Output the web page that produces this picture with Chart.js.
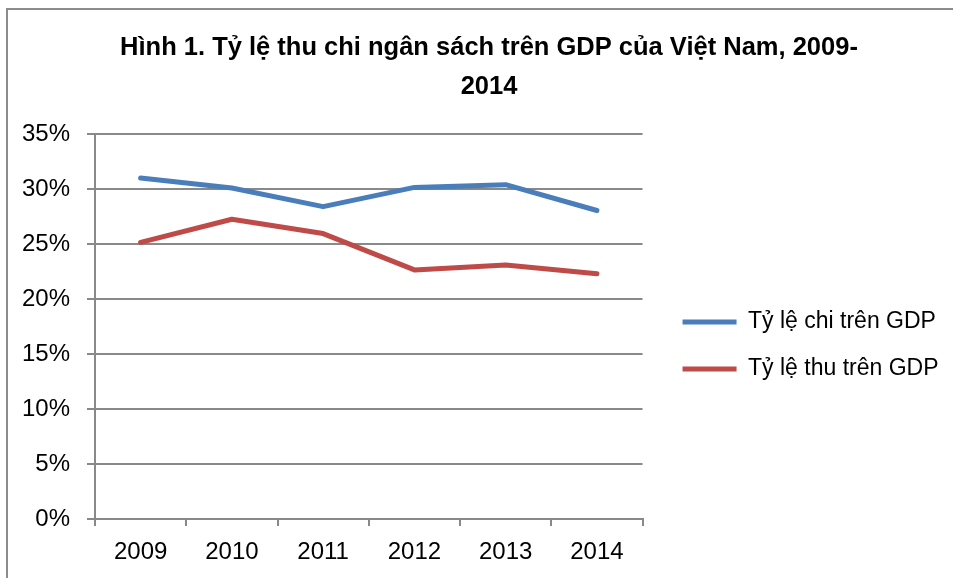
<!DOCTYPE html>
<html>
<head>
<meta charset="utf-8">
<script src="https://cdn.jsdelivr.net/npm/chart.js@4"></script>
<style>
    html, body { margin: 0; padding: 0; background: #fff; }
    #wrap { width: 953px; height: 578px; }
</style>
</head>
<body>
<div id="wrap"><canvas id="chart" width="953" height="578"></canvas></div>
<script>
const years = ['2009', '2010', '2011', '2012', '2013', '2014'];
const chiGdp = [31.0, 30.1, 28.4, 30.15, 30.4, 28.05];
const thuGdp = [25.15, 27.25, 25.95, 22.65, 23.1, 22.3];
const yTicks = [0, 5, 10, 15, 20, 25, 30, 35];
const seriesNames = ['Tỷ lệ chi trên GDP', 'Tỷ lệ thu trên GDP'];
const titleLines = ['Hình 1. Tỷ lệ thu chi ngân sách trên GDP của Việt Nam, 2009-', '2014'];

const FONT = "'Liberation Sans', Arial, sans-serif";
const GRID = '#898989';

// grey frame around the chart object (left + top edges only are visible)
const framePlugin = {
    id: 'frame',
    beforeDraw(chart) {
        const c = chart.ctx;
        c.save();
        c.strokeStyle = '#8c8c8c';
        c.lineWidth = 2;
        c.beginPath();
        c.moveTo(7, 578);
        c.lineTo(7, 9);
        c.lineTo(953, 9);
        c.stroke();
        c.restore();
    }
};

// empty spacer axis, only used to reserve room in the layout
const spacer = (w, weight) => ({
    type: 'linear',
    position: 'right',
    display: true,
    weight: weight,
    grid: { display: false, drawTicks: false },
    border: { display: false },
    ticks: { display: false },
    afterFit(scale) { scale.width = w; }
});

const ctx = document.getElementById('chart').getContext('2d');
new Chart(ctx, {
    type: 'line',
    data: {
        labels: years,
        datasets: [
            {
                label: seriesNames[0],
                data: chiGdp,
                borderColor: '#4a7ebb',
                backgroundColor: '#4a7ebb',
                borderWidth: 5,
                borderCapStyle: 'round',
                borderJoinStyle: 'round',
                pointRadius: 0,
                tension: 0
            },
            {
                label: seriesNames[1],
                data: thuGdp,
                borderColor: '#be4b48',
                backgroundColor: '#be4b48',
                borderWidth: 5,
                borderCapStyle: 'round',
                borderJoinStyle: 'round',
                pointRadius: 0,
                tension: 0
            }
        ]
    },
    options: {
        responsive: false,
        animation: false,
        devicePixelRatio: 1,
        layout: { padding: { left: 18, right: -7, top: 0, bottom: 0 } },
        plugins: {
            title: {
                display: true,
                text: titleLines,
                color: '#000',
                font: { family: FONT, size: 25.5, weight: 'bold', lineHeight: 1.55 },
                padding: { top: 28, bottom: 27 }
            },
            legend: {
                position: 'right',
                fullSize: false,
                maxWidth: 400,
                title: {
                    display: true,
                    text: ' ',
                    font: { size: 1, lineHeight: 1 },
                    padding: { top: 37, bottom: 0 }
                },
                labels: {
                    usePointStyle: true,
                    pointStyle: 'line',
                    pointStyleWidth: 54,
                    padding: 24,
                    color: '#000',
                    font: { family: FONT, size: 23 }
                }
            },
            tooltip: { enabled: false }
        },
        scales: {
            x: {
                offset: true,
                grid: {
                    offset: true,
                    drawOnChartArea: false,
                    drawTicks: true,
                    tickLength: 7,
                    color: GRID,
                    lineWidth: 2
                },
                border: { display: true, color: GRID, width: 2 },
                ticks: {
                    color: '#000',
                    padding: 12,
                    maxRotation: 0,
                    font: { family: FONT, size: 24 }
                },
                afterFit(scale) { scale.height = 59; }
            },
            y: {
                min: 0,
                max: 35,
                afterBuildTicks(scale) {
                    scale.ticks = yTicks.map(v => ({ value: v }));
                },
                grid: {
                    color: GRID,
                    lineWidth: 2,
                    tickLength: 8
                },
                border: { display: true, color: GRID, width: 2 },
                ticks: {
                    color: '#000',
                    padding: 17,
                    font: { family: FONT, size: 24 },
                    callback: v => v + '%'
                },
                afterFit(scale) { scale.width = 77; }
            },
            gapInner: spacer(16, 0),
            gapOuter: spacer(11.5, 2000)
        }
    },
    plugins: [framePlugin]
});
</script>
</body>
</html>
